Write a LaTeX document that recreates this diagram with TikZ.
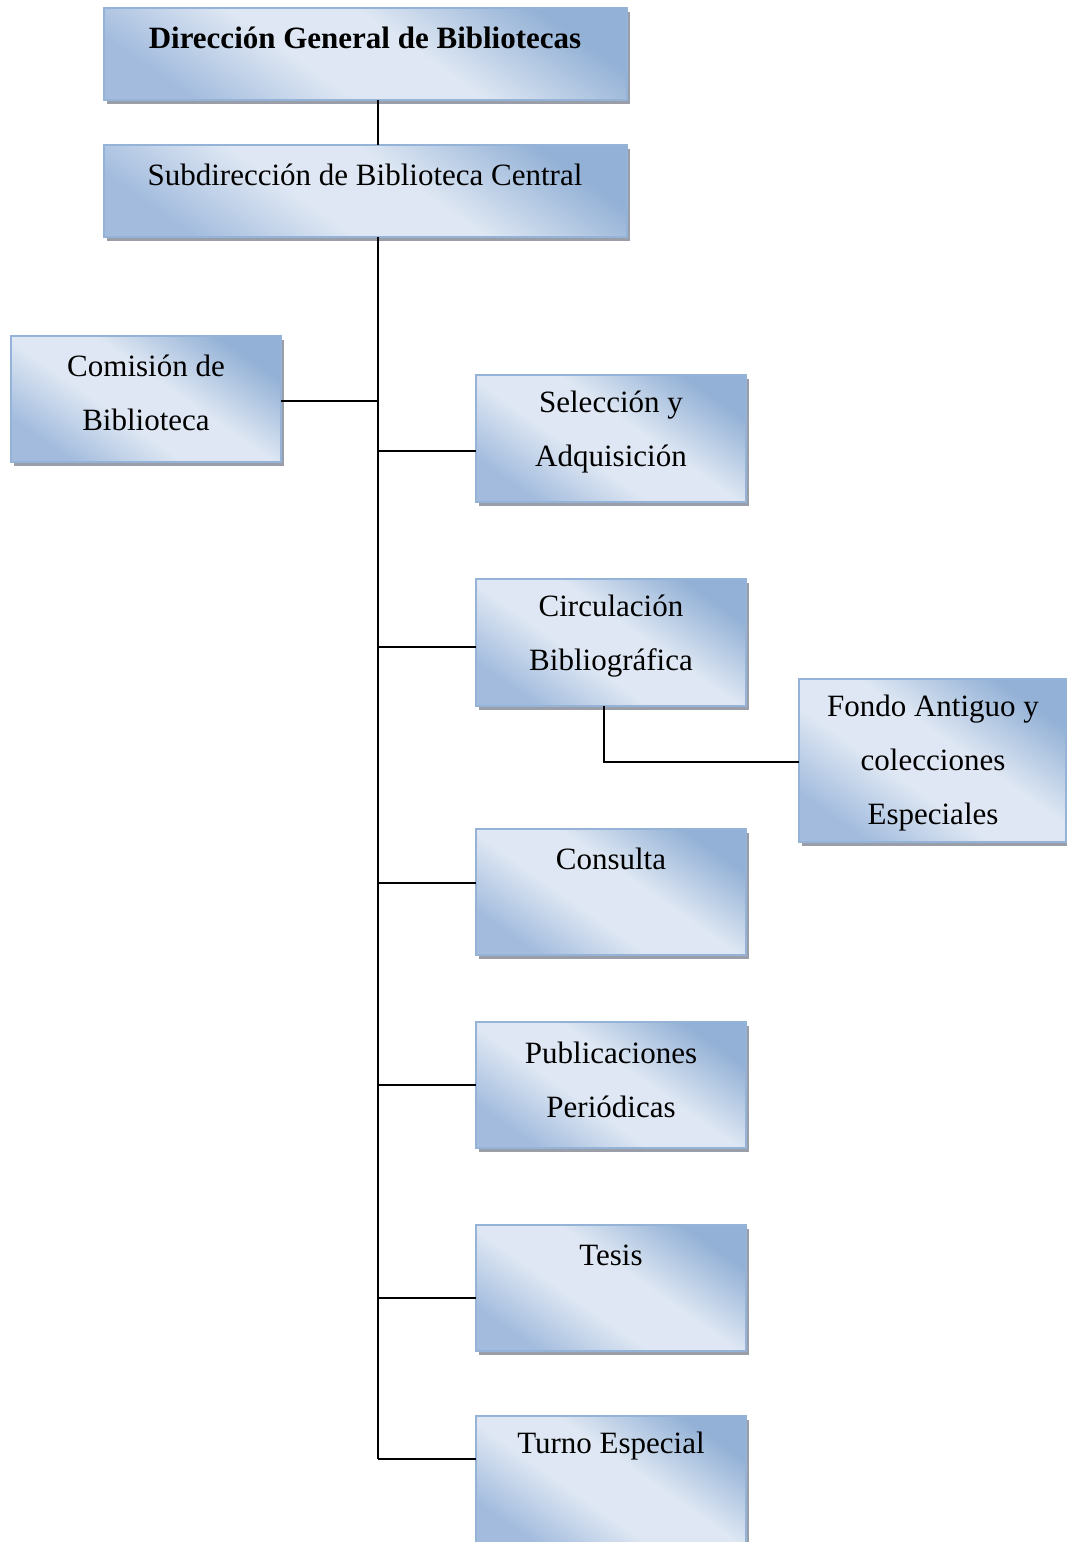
\documentclass[tikz,border=0pt]{standalone}
\usepackage{fontspec}
\setmainfont{Liberation Serif}
\definecolor{bdark}{HTML}{93B1D6}
\definecolor{blight}{HTML}{DEE7F3}
\definecolor{bmid}{HTML}{A3BCDE}
\definecolor{bedge}{HTML}{95B3D7}
\definecolor{shadowc}{HTML}{9A9EA8}
\pgfdeclareverticalshading{orgshade}{100bp}{color(0bp)=(bmid); color(25bp)=(bmid); color(42bp)=(blight); color(56bp)=(blight); color(75bp)=(bdark); color(100bp)=(bdark)}
\begin{document}
\begin{tikzpicture}[x=1pt,y=-1pt,
  orgbox/.style={draw=bedge, line width=1.3pt, shading=orgshade, shading angle=-35},
  shadowbox/.style={fill=shadowc},
  lbl/.style={font=\fontsize{31}{54}\selectfont, align=center, inner sep=0pt},
  conn/.style={line width=1.6pt, black}]
\useasboundingbox (0,0) rectangle (1066,1542);
\newcommand{\obox}[5]{% name, x1, y1, x2, y2
  \fill[shadowbox] (#2+3,#3+4) rectangle (#4+3,#5+4);
  \path[orgbox] (#2,#3) rectangle (#4,#5);
  \node[inner sep=0pt, minimum width=#4-#2, minimum height=#5-#3] (#1) at ({(#2+#4)/2},{(#3+#5)/2}) {};
}
\obox{dir}{104}{8}{627}{100}
\obox{sub}{104}{145}{627}{237}
\obox{com}{11}{336}{281}{462}
\obox{sel}{476}{375}{746}{502}
\obox{cir}{476}{579}{746}{706}
\obox{fon}{799}{679}{1066}{842}
\obox{con}{476}{829}{746}{955}
\obox{pub}{476}{1022}{746}{1148}
\obox{tes}{476}{1225}{746}{1351}
\obox{tur}{476}{1416}{746}{1546}

\node[lbl, font=\fontsize{31}{54}\selectfont\bfseries] (dir-t) at (365,38) {Dirección General de Bibliotecas};
\node[lbl] (sub-t) at (365,175) {Subdirección de Biblioteca Central};
\node[lbl] (com-t) at (146,393) {Comisión de\\Biblioteca};
\node[lbl] (sel-t) at (611,432) {Selección y\\Adquisición};
\node[lbl] (cir-t) at (611,636) {Circulación\\Bibliográfica};
\node[lbl] (fon-t) at (933,763) {Fondo Antiguo y\\colecciones\\Especiales};
\node[lbl] (con-t) at (611,859) {Consulta};
\node[lbl] (pub-t) at (611,1080) {Publicaciones\\Periódicas};
\node[lbl] (tes-t) at (611,1255) {Tesis};
\node[lbl] (tur-t) at (611,1446) {Turno Especial};

\coordinate (tA) at (378,100);
\coordinate (tB) at (378,145);
\coordinate (tC) at (378,237);
\coordinate (tEnd) at (378,1459);
\coordinate (bend) at (604,762);
\draw[conn] (tA) -- (tB);
\draw[conn] (tC) -- (tEnd);
\draw[conn] (com.east |- 0,401) -- (378,401);
\draw[conn] (378,451) -- (sel.west |- 0,451);
\draw[conn] (378,647) -- (cir.west |- 0,647);
\draw[conn] (378,883) -- (con.west |- 0,883);
\draw[conn] (378,1085) -- (pub.west |- 0,1085);
\draw[conn] (378,1298) -- (tes.west |- 0,1298);
\draw[conn] (tEnd) -- (tur.west |- 0,1459);
\draw[conn] (cir.south -| bend) -- (bend) -- (fon.west |- bend);
\end{tikzpicture}
\end{document}
